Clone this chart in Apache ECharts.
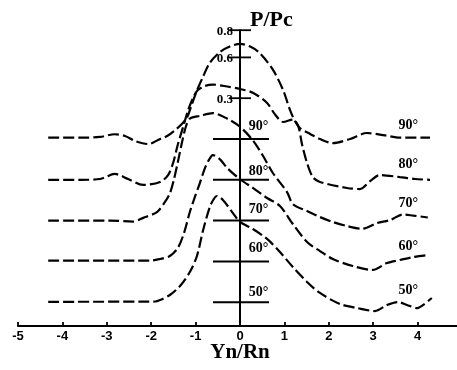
<!DOCTYPE html>
<html>
<head>
<meta charset="utf-8">
<script src="https://cdn.jsdelivr.net/npm/echarts@6/dist/echarts.min.js"></script>
<style>
  html, body { margin: 0; padding: 0; background: #fff; }
  #chart { width: 457px; height: 370px; }
</style>
</head>
<body>
<div id="chart"></div>
<script>
// Pressure profiles P/Pc across Yn/Rn for five inclination angles.
// Every profile is drawn 0.3 below the previous one so they stack downward.

const angleLabels = ['90°', '80°', '70°', '60°', '50°'];

const yn90 = [-4.32, -3.6, -3.15, -2.82, -2.59, -2.36, -2.07, -1.8, -1.64, -1.46, -1.31, -1.19, -1.1, -0.99, -0.83, -0.68, -0.45, -0.23, 0, 0.23, 0.45, 0.74, 0.97, 1.13, 1.24, 1.35, 1.58, 1.8, 2.09, 2.48, 2.86, 3.27, 3.6, 4.28];
const p90  = [0.01, 0.01, 0.015, 0.035, 0.022, -0.015, -0.037, 0.0, 0.022, 0.066, 0.11, 0.16, 0.24, 0.34, 0.46, 0.56, 0.64, 0.68, 0.70, 0.68, 0.63, 0.51, 0.36, 0.21, 0.13, 0.08, 0.037, 0.0, -0.03, 0.0, 0.044, 0.026, 0.01, 0.01];

const yn80 = [-4.32, -3.6, -3.15, -2.82, -2.52, -2.18, -1.8, -1.62, -1.51, -1.4, -1.28, -1.17, -1.06, -0.95, -0.79, -0.61, -0.29, 0, 0.29, 0.61, 0.79, 0.97, 1.19, 1.31, 1.4, 1.51, 1.64, 1.8, 2.41, 2.7, 2.93, 3.15, 3.6, 3.94, 4.28];
const p80  = [0, 0, 0.006, 0.043, 0.006, -0.038, -0.016, 0.035, 0.12, 0.26, 0.39, 0.51, 0.60, 0.66, 0.69, 0.70, 0.686, 0.668, 0.64, 0.565, 0.48, 0.425, 0.443, 0.396, 0.256, 0.124, 0.02, -0.016, -0.06, -0.068, -0.01, 0.035, 0.02, 0.006, 0];

const yn70 = [-4.32, -2.93, -2.41, -2.18, -1.87, -1.69, -1.58, -1.49, -1.4, -1.31, -1.22, -1.13, -0.9, -0.61, -0.29, 0, 0.29, 0.52, 0.74, 1.06, 1.19, 1.51, 1.8, 2.09, 2.41, 2.75, 3.09, 3.38, 3.67, 3.9, 4.23];
const p70  = [0, 0, -0.007, 0.02, 0.063, 0.137, 0.2, 0.3, 0.43, 0.57, 0.69, 0.75, 0.77, 0.79, 0.75, 0.69, 0.59, 0.475, 0.35, 0.21, 0.122, 0.07, 0.026, -0.01, -0.04, -0.06, -0.018, 0.004, 0.045, 0.037, 0.023];

const yn60 = [-4.32, -2.03, -1.8, -1.58, -1.4, -1.26, -1.13, -1.01, -0.9, -0.79, -0.7, -0.61, -0.45, -0.29, 0, 0.29, 0.61, 0.9, 1.19, 1.51, 1.8, 2.09, 2.54, 2.99, 3.31, 3.6, 3.9, 4.23];
const p60  = [0.005, 0.005, 0.018, 0.04, 0.099, 0.21, 0.363, 0.48, 0.58, 0.686, 0.746, 0.782, 0.75, 0.687, 0.604, 0.54, 0.466, 0.407, 0.275, 0.143, 0.076, 0.018, -0.034, -0.063, -0.012, 0.01, 0.032, 0.047];

const yn50 = [-4.32, -1.91, -1.8, -1.58, -1.35, -1.13, -0.97, -0.83, -0.68, -0.59, -0.52, -0.38, -0.16, 0, 0.29, 0.61, 0.9, 1.19, 1.51, 1.8, 2.25, 2.64, 3.04, 3.31, 3.56, 3.76, 3.99, 4.12, 4.32];
const p50  = [0.003, 0.005, 0.016, 0.053, 0.119, 0.222, 0.34, 0.531, 0.7, 0.759, 0.781, 0.75, 0.655, 0.59, 0.538, 0.465, 0.369, 0.259, 0.149, 0.068, -0.013, -0.043, -0.065, -0.021, 0.001, -0.021, -0.043, -0.021, 0.031];

const pTickValues = [0.3, 0.6, 0.8];
const pTickLabels = ['0.3', '0.6', '0.8'];

// vertical spacing between stacked profiles
const STACK_STEP = 0.3;
// where the right-hand angle tags sit along Yn/Rn
const RIGHT_TAG_YN = 3.79;
// pixel lift of the angle tags above each profile's zero line
const innerTagLift = [13, 8.5, 11.5, 13, 10.3];
const rightTagLift = [14, 15.8, 17.6, 15.4, 12.2];

const profiles = [
  [yn90, p90], [yn80, p80], [yn70, p70], [yn60, p60], [yn50, p50]
];

const serifBold = '"Liberation Serif", "Times New Roman", serif';
const sansBold = '"Liberation Sans", Arial, sans-serif';

const lineSeries = profiles.map(([xs, ps], i) => ({
  name: angleLabels[i],
  type: 'line',
  data: xs.map((x, k) => [x, ps[k] - i * STACK_STEP]),
  smooth: 0.3,
  showSymbol: false,
  silent: true,
  clip: false,
  lineStyle: { color: '#000', width: 2.2, type: [11, 4] }
}));

// axis decorations: crossing ticks with P/Pc values, zero-line ticks and angle tags
const markData = [
  ...pTickValues.map((v, i) => [0, v, 0, i]),
  ...angleLabels.map((a, i) => [0, -i * STACK_STEP, 1, i]),
  ...angleLabels.map((a, i) => [RIGHT_TAG_YN, -i * STACK_STEP, 2, i])
];

function renderMarks(params, api) {
  const kind = api.value(2);
  const idx = api.value(3);
  const pt = api.coord([api.value(0), api.value(1)]);
  if (kind === 0) {
    return {
      type: 'group',
      children: [
        { type: 'line', shape: { x1: pt[0] - 11, y1: pt[1], x2: pt[0] + 11, y2: pt[1] },
          style: { stroke: '#000', lineWidth: 1.8 } },
        { type: 'text', style: { text: pTickLabels[idx], x: pt[0] - 7, y: pt[1] + 1,
          align: 'right', verticalAlign: 'middle', fill: '#000',
          font: 'bold 13px ' + serifBold } }
      ]
    };
  }
  if (kind === 1) {
    return {
      type: 'group',
      children: [
        { type: 'line', shape: { x1: pt[0] - 27, y1: pt[1], x2: pt[0] + 29, y2: pt[1] },
          style: { stroke: '#000', lineWidth: 2 } },
        { type: 'text', style: { text: angleLabels[idx], x: pt[0] + 18.5, y: pt[1] - innerTagLift[idx],
          align: 'center', verticalAlign: 'middle', fill: '#000',
          font: 'bold 14px ' + serifBold } }
      ]
    };
  }
  return {
    type: 'text',
    style: { text: angleLabels[idx], x: pt[0], y: pt[1] - rightTagLift[idx],
      align: 'center', verticalAlign: 'middle', fill: '#000',
      font: 'bold 14px ' + serifBold }
  };
}

const chart = echarts.init(document.getElementById('chart'), null, { renderer: 'canvas' });
chart.setOption({
  animation: false,
  backgroundColor: '#fff',
  grid: { left: 18, width: 444, top: 30.2, height: 295.8, containLabel: false, outerBoundsMode: 'none' },
  xAxis: {
    type: 'value',
    min: -5, max: 5, interval: 1,
    name: 'Yn/Rn',
    nameLocation: 'middle',
    nameGap: 16,
    nameMoveOverlap: false,
    nameTextStyle: { fontFamily: serifBold, fontWeight: 'bold', fontSize: 21, color: '#000' },
    axisLine: { onZero: false, lineStyle: { color: '#000', width: 2 } },
    axisTick: { inside: true, length: 4, lineStyle: { color: '#000', width: 1.8 } },
    axisLabel: { margin: 4, color: '#000', fontFamily: sansBold, fontWeight: 'bold', fontSize: 13 },
    splitLine: { show: false }
  },
  yAxis: {
    type: 'value',
    min: -1.375, max: 0.8,
    name: 'P/Pc',
    nameLocation: 'end',
    nameGap: -1,
    nameTextStyle: { fontFamily: serifBold, fontWeight: 'bold', fontSize: 22, color: '#000', align: 'left', padding: [0, 0, 0, 10] },
    axisLine: { onZero: true, lineStyle: { color: '#000', width: 2 } },
    axisTick: { show: false },
    axisLabel: { show: false },
    splitLine: { show: false }
  },
  series: [
    ...lineSeries,
    {
      type: 'custom',
      silent: true,
      clip: false,
      renderItem: renderMarks,
      data: markData,
      z: 3
    }
  ]
});
</script>
</body>
</html>
